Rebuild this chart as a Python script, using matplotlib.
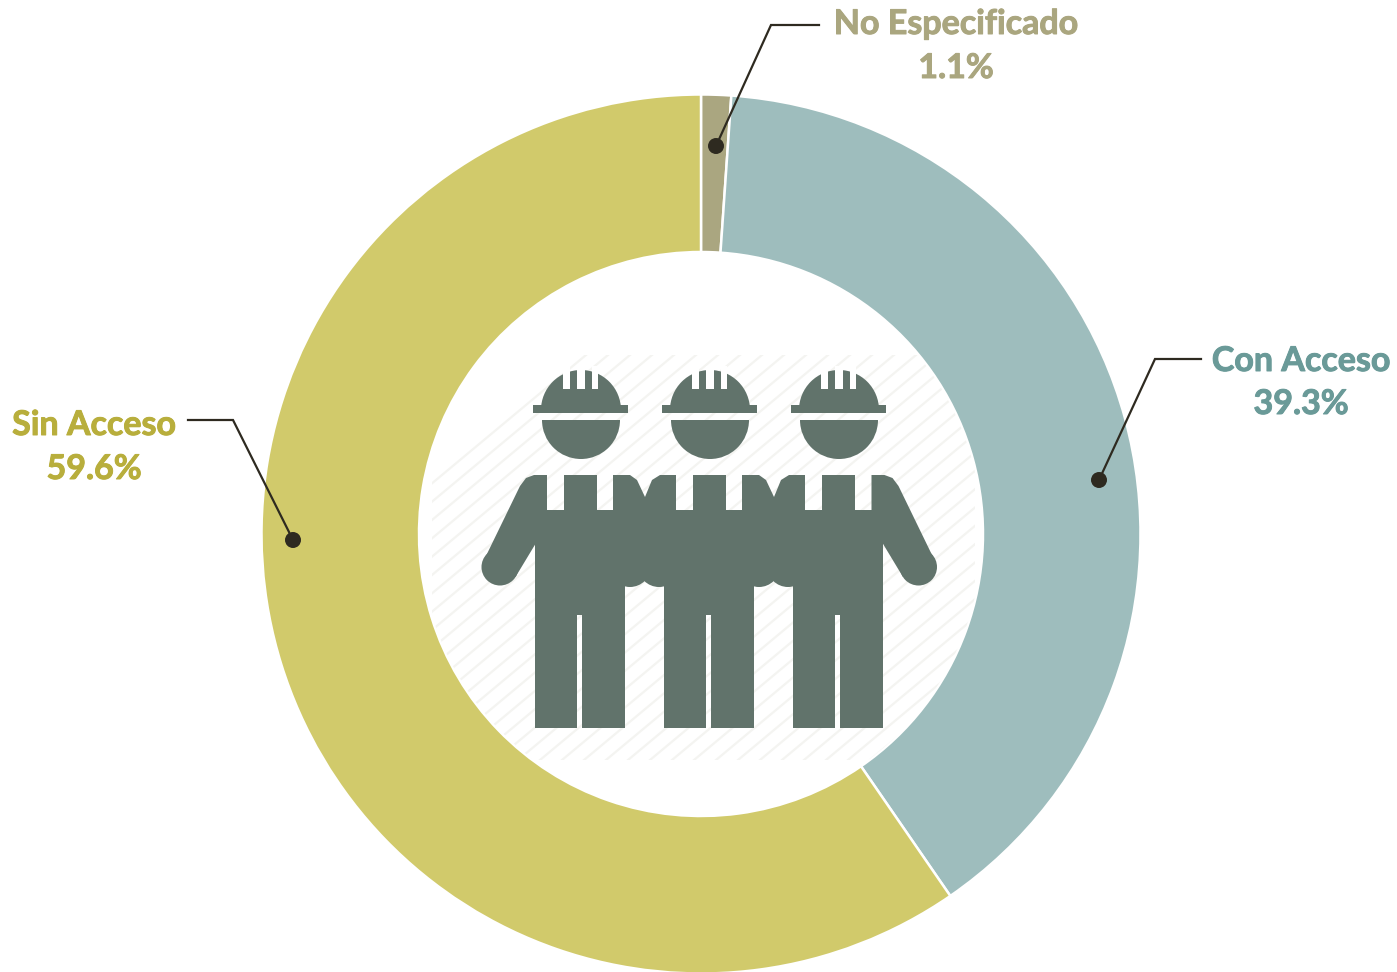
import numpy as np
import matplotlib
matplotlib.use("Agg")
import matplotlib.pyplot as plt
import matplotlib.patheffects as pe
from matplotlib.patches import Circle, Polygon, Rectangle, Wedge

plt.rcParams['font.family'] = ['Lato', 'DejaVu Sans']

# data, clockwise from the top
labels = ["No Especificado", "Con Acceso", "Sin Acceso"]
values = [1.1, 39.3, 59.6]
colors = ["#aaa680", "#9ebdbd", "#d1ca6b"]
text_colors = ["#aaa67f", "#6a9a98", "#b8ae3c"]

# label centre x, y of first line, y of second line
label_pos = [(956, 24, 68), (1301, 361, 404), (94, 425, 469)]
# leader lines: dot -> elbow -> end
leaders = [[(716, 146), (771, 25), (819, 25)],
           [(1099, 480), (1155, 359), (1201, 359)],
           [(293, 540), (233, 420), (188, 420)]]

line_col = "#2e2a20"
icon_col = "#61736b"
W, H = 1397, 972
cx, cy = 701, 534
r_out, r_in = 439.5, 282

fig = plt.figure(figsize=(W / 100, H / 100), dpi=100)
ax = fig.add_axes([0, 0, 1, 1])

# y axis is flipped so the axes are in image pixels; the pie then runs clockwise
ax.pie(values, colors=colors, startangle=-90, counterclock=True, center=(cx, cy),
       radius=r_out, wedgeprops=dict(width=r_out - r_in, edgecolor="white", linewidth=1.8))
ax.set_xlim(0, W)
ax.set_ylim(H, 0)
ax.set_aspect('equal')
ax.axis('off')

# faint diagonal stripes behind the icon, inside the hole and a box
t = np.linspace(0, 2 * np.pi, 400)
hole = np.column_stack([np.clip(cx + (r_in - 1) * np.cos(t), 432, 975),
                        np.clip(cy + (r_in - 1) * np.sin(t), 355, 760)])
clip = Polygon(hole, transform=ax.transData)
for x0 in np.arange(100, 1500, 22):
    ln, = ax.plot([x0, x0 + 600], [760, 260], color="#f4f4f1", lw=1.6, zorder=2)
    ln.set_clip_path(clip)


def fill(patch):
    patch.set_facecolor(icon_col)
    patch.set_edgecolor("none")
    patch.set_zorder(3)
    ax.add_patch(patch)


def worker(x):
    # helmet
    fill(Wedge((x, 410), 40, 180, 360))
    fill(Rectangle((x - 48, 405), 95, 8))
    for sx, sw in [(-18, 7), (-4, 8), (11, 6)]:
        ax.add_patch(Rectangle((x + sx, 366), sw, 23, fc="white", ec="none", zorder=4))
    # face
    fill(Wedge((x, 420), 39, 0, 180))
    # chest
    fill(Rectangle((x - 17, 475), 33, 40))
    # torso and legs
    fill(Polygon([(x - 46, 510), (x + 44, 510), (x + 44, 728), (x + 1, 728), (x + 1, 615),
                  (x - 4, 615), (x - 4, 728), (x - 46, 728)]))


workers = [581, 710, 839]
for w in workers:
    worker(w)

# outer arms, the right one mirrors the left
arm = [(547, 475), (534, 475), (526, 478), (520, 486), (485, 558), (515.5, 577), (536, 543),
       (537, 512), (547, 512)]
mirror = 1418.5
fill(Polygon(arm))
fill(Circle((500, 567), 18.5))
fill(Polygon([(mirror - a, b) for a, b in arm]))
fill(Circle((mirror - 500, 567), 18.5))

# shoulders and hands where two workers meet
for w in workers[:2]:
    fill(Polygon([(w + 32, 475), (w + 49, 475), (w + 56, 480), (w + 64, 497), (w + 71, 480),
                  (w + 79, 475), (w + 95, 475), (w + 95, 512), (w + 32, 512)]))
    fill(Rectangle((w + 44, 510), 39, 56))
    fill(Circle((w + 49, 566), 21))
    fill(Circle((w + 78, 566), 21))

# leader lines and labels
thicker = [pe.withStroke(linewidth=0.7)]
for pts, (tx, y1, y2), name, val, col in zip(leaders, label_pos, labels, values, text_colors):
    xs, ys = zip(*pts)
    ax.plot(xs, ys, color=line_col, lw=1.6, zorder=5, solid_joinstyle='miter')
    ax.add_patch(Circle(pts[0], 8, fc=line_col, ec="none", zorder=6))
    for y, s in [(y1, name), (y2, f"{val}%")]:
        ax.text(tx, y, s, color=col, fontsize=24.5, fontweight='bold', ha='center', va='center',
                zorder=6, path_effects=[pe.withStroke(linewidth=0.7, foreground=col)])

fig.savefig("out.png", dpi=100, facecolor="white")
